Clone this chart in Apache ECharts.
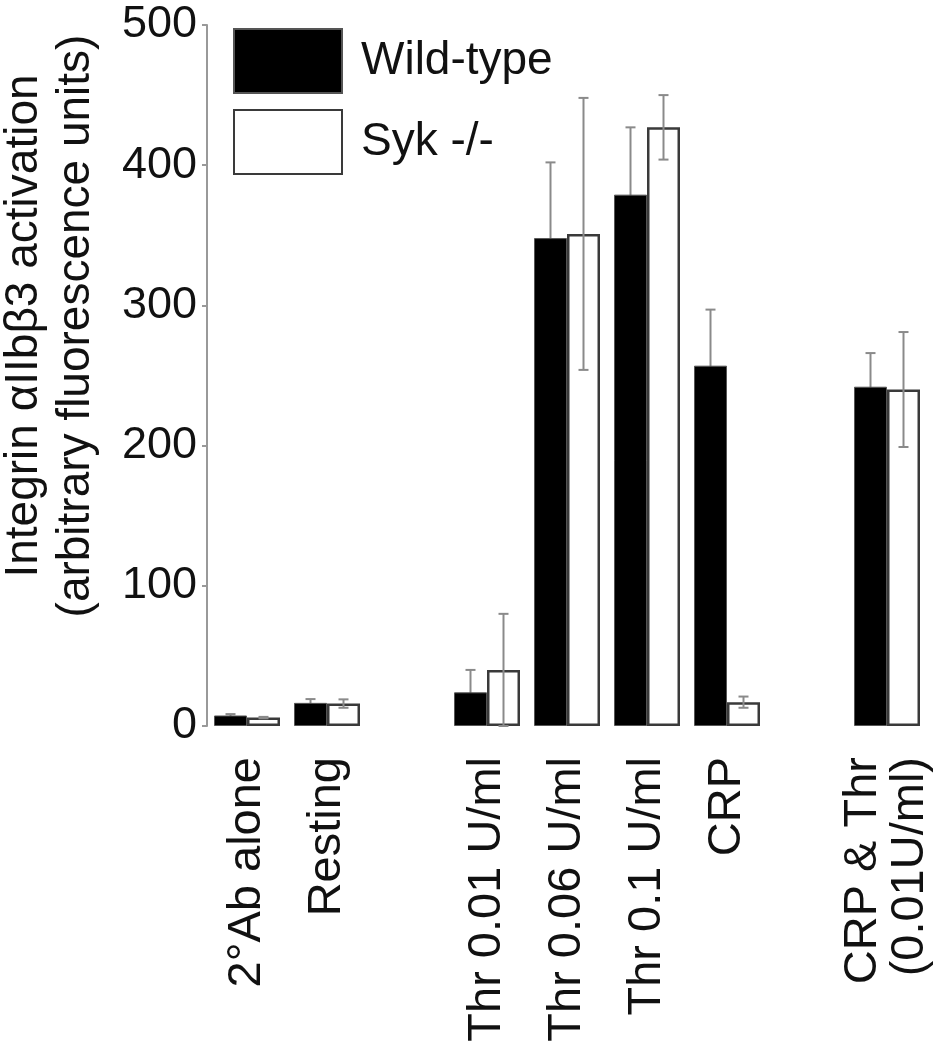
<!DOCTYPE html>
<html>
<head>
<meta charset="utf-8">
<script src="https://cdn.jsdelivr.net/npm/echarts@6/dist/echarts.min.js"></script>
<style>html,body{margin:0;padding:0;background:#fff}#c{width:941px;height:1050px}</style>
</head>
<body>
<div id="c"></div>
<script>
var categories = ['2°Ab alone', 'Resting', '', 'Thr 0.01 U/ml', 'Thr 0.06 U/ml', 'Thr 0.1 U/ml', 'CRP', '', 'CRP & Thr\n(0.01U/ml)'];
var wildType = [7.5, 16.5, null, 24, 348, 379, 257, null, 242];
var wildTypeErr = [1, 2.7, null, 16, 54, 48, 40, null, 24];
var sykKO = [6, 16, null, 40, 351, 427, 17, null, 240];
var sykKOErr = [0.5, 3, null, 40, 97, 23, 4, null, 41];
var yTicks = [0, 100, 200, 300, 400, 500];
var seriesNames = ['Wild-type', 'Syk -/-'];

var FONT = "'Liberation Sans', Arial, Helvetica, sans-serif";
var BAR_W = 33;

function errData(means, errs) {
  var out = [];
  for (var i = 0; i < means.length; i++) {
    if (means[i] != null) out.push([i, means[i], errs[i]]);
  }
  return out;
}

function errRender(offset) {
  return function (params, api) {
    var x = api.value(0), m = api.value(1), e = api.value(2);
    var hi = api.coord([x, m + e]);
    var lo = api.coord([x, Math.max(0, m - e)]);
    var cx = hi[0] + offset;
    var cap = 5;
    var style = { stroke: '#8a8a8a', lineWidth: 2 };
    return {
      type: 'group',
      children: [
        { type: 'line', shape: { x1: cx, y1: hi[1], x2: cx, y2: lo[1] }, style: style },
        { type: 'line', shape: { x1: cx - cap, y1: hi[1], x2: cx + cap, y2: hi[1] }, style: style },
        { type: 'line', shape: { x1: cx - cap, y1: lo[1], x2: cx + cap, y2: lo[1] }, style: style }
      ]
    };
  };
}

var chart = echarts.init(document.getElementById('c'), null, { renderer: 'canvas' });
chart.setOption({
  backgroundColor: '#fff',
  animation: false,
  textStyle: { fontFamily: FONT },
  grid: { left: 207, right: 14, top: 25, bottom: 324, containLabel: false },
  legend: {
    orient: 'vertical',
    left: 228,
    top: 23,
    itemWidth: 108,
    itemHeight: 64,
    itemGap: 15,
    icon: 'rect',
    data: seriesNames,
    textStyle: { fontSize: 46, color: '#111', fontFamily: FONT, padding: [0, 0, 0, 14] }
  },
  xAxis: {
    type: 'category',
    data: categories,
    axisLine: { show: false },
    axisTick: { show: false },
    axisLabel: {
      interval: 0,
      rotate: 90,
      margin: 31,
      fontSize: 47,
      color: '#111',
      fontFamily: FONT,
      lineHeight: 47
    }
  },
  yAxis: {
    type: 'value',
    min: 0,
    max: 500,
    interval: 100,
    axisLine: { show: true, lineStyle: { color: '#999', width: 2 } },
    axisTick: { show: true, length: 5, lineStyle: { color: '#999', width: 2 } },
    splitLine: { show: false },
    axisLabel: {
      fontSize: 45,
      color: '#111',
      fontFamily: FONT,
      margin: 10,
      formatter: function (v) { return yTicks.indexOf(v) >= 0 ? String(v) : ''; }
    }
  },
  graphic: [{
    type: 'text',
    x: 50,
    y: 326,
    rotation: Math.PI / 2,
    style: {
      text: 'Integrin \u03b1IIb\u03b23 activation\n(arbitrary fluorescence units)',
      fontSize: 46,
      lineHeight: 52,
      fontFamily: FONT,
      fill: '#111',
      align: 'center',
      verticalAlign: 'middle'
    }
  }],
  series: [
    {
      name: seriesNames[0],
      type: 'bar',
      data: wildType,
      barWidth: BAR_W,
      barGap: '0%',
      z: 2,
      itemStyle: { color: '#000', borderColor: '#555', borderWidth: 1 }
    },
    {
      name: seriesNames[1],
      type: 'bar',
      data: sykKO,
      barWidth: BAR_W,
      barGap: '0%',
      z: 2,
      itemStyle: { color: '#fff', borderColor: '#3a3a3a', borderWidth: 2.5 }
    },
    {
      type: 'custom',
      name: 'wtErr',
      data: errData(wildType, wildTypeErr),
      encode: { x: 0, y: 1 },
      renderItem: errRender(-BAR_W / 2),
      z: 1,
      silent: true
    },
    {
      type: 'custom',
      name: 'sykErr',
      data: errData(sykKO, sykKOErr),
      encode: { x: 0, y: 1 },
      renderItem: errRender(BAR_W / 2),
      z: 3,
      silent: true
    }
  ]
});
</script>
</body>
</html>
